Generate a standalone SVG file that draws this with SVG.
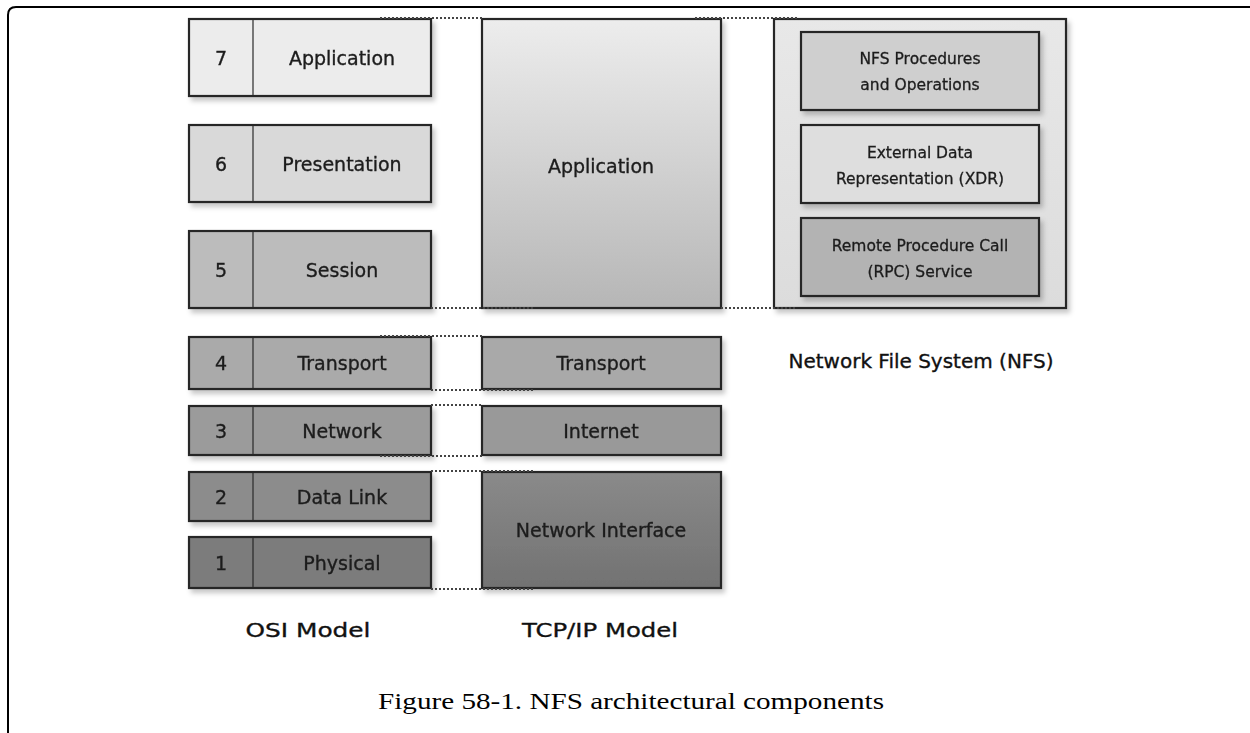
<svg xmlns="http://www.w3.org/2000/svg" width="1250" height="733" viewBox="0 0 1250 733">
<style>
.box{stroke:#262626;stroke-width:2.2}
.div{stroke:#2a2a2a;stroke-width:1.2}
.t{font-family:"DejaVu Sans","Liberation Sans",sans-serif;font-size:19px;fill:#1c1c1c;stroke:#1c1c1c;stroke-width:0.35;text-anchor:middle}
.s{font-family:"DejaVu Sans","Liberation Sans",sans-serif;font-size:15.5px;fill:#1c1c1c;stroke:#1c1c1c;stroke-width:0.3;text-anchor:middle}
.lbl{font-family:"DejaVu Sans","Liberation Sans",sans-serif;font-size:20px;fill:#111;stroke:#111;stroke-width:0.35;text-anchor:middle}
.cap{font-family:"Liberation Serif","Times New Roman",serif;font-size:23px;fill:#000;text-anchor:middle}
.dot{stroke:#444;stroke-width:2;stroke-dasharray:2 2;fill:none}
</style>
<defs>
<filter id="sh" x="-10%" y="-10%" width="130%" height="140%">
<feDropShadow dx="3" dy="4" stdDeviation="2.5" flood-color="#000" flood-opacity="0.22"/>
</filter>
<linearGradient id="gApp" x1="0" y1="0" x2="0" y2="1"><stop offset="0" stop-color="#ededed"/><stop offset="1" stop-color="#b6b6b6"/></linearGradient>
<linearGradient id="gNI" x1="0" y1="0" x2="0" y2="1"><stop offset="0" stop-color="#8a8a8a"/><stop offset="1" stop-color="#727272"/></linearGradient>
<linearGradient id="gNFS" x1="0" y1="0" x2="0" y2="1"><stop offset="0" stop-color="#e8e8e8"/><stop offset="1" stop-color="#dcdcdc"/></linearGradient>
</defs>
<rect width="1250" height="733" fill="#fff"/>
<path d="M8,733 V15 Q8,7 16,7 H1250" fill="none" stroke="#000" stroke-width="2"/>

<g id="osi-7" filter="url(#sh)"><rect class="box" x="189" y="19" width="242" height="77" fill="#ececec"/><line class="div" x1="253" y1="19" x2="253" y2="96"/><text class="t" x="221" y="64.5">7</text><text class="t" x="342" y="64.5">Application</text></g>
<g id="osi-6" filter="url(#sh)"><rect class="box" x="189" y="125" width="242" height="77" fill="#d9d9d9"/><line class="div" x1="253" y1="125" x2="253" y2="202"/><text class="t" x="221" y="170.5">6</text><text class="t" x="342" y="170.5">Presentation</text></g>
<g id="osi-5" filter="url(#sh)"><rect class="box" x="189" y="231" width="242" height="77" fill="#bcbcbc"/><line class="div" x1="253" y1="231" x2="253" y2="308"/><text class="t" x="221" y="276.5">5</text><text class="t" x="342" y="276.5">Session</text></g>
<g id="osi-4" filter="url(#sh)"><rect class="box" x="189" y="337" width="242" height="52" fill="#aaaaaa"/><line class="div" x1="253" y1="337" x2="253" y2="389"/><text class="t" x="221" y="370">4</text><text class="t" x="342" y="370">Transport</text></g>
<g id="osi-3" filter="url(#sh)"><rect class="box" x="189" y="406" width="242" height="49" fill="#9b9b9b"/><line class="div" x1="253" y1="406" x2="253" y2="455"/><text class="t" x="221" y="437.5">3</text><text class="t" x="342" y="437.5">Network</text></g>
<g id="osi-2" filter="url(#sh)"><rect class="box" x="189" y="472" width="242" height="49" fill="#8c8c8c"/><line class="div" x1="253" y1="472" x2="253" y2="521"/><text class="t" x="221" y="503.5">2</text><text class="t" x="342" y="503.5">Data Link</text></g>
<g id="osi-1" filter="url(#sh)"><rect class="box" x="189" y="537" width="242" height="51" fill="#7b7b7b"/><line class="div" x1="253" y1="537" x2="253" y2="588"/><text class="t" x="221" y="569.5">1</text><text class="t" x="342" y="569.5">Physical</text></g>

<g id="tcp-application" filter="url(#sh)"><rect class="box" x="482" y="19" width="239" height="289" fill="url(#gApp)"/><text class="t" x="601" y="173">Application</text></g>
<g id="tcp-transport" filter="url(#sh)"><rect class="box" x="482" y="337" width="239" height="52" fill="#a9a9a9"/><text class="t" x="601" y="370">Transport</text></g>
<g id="tcp-internet" filter="url(#sh)"><rect class="box" x="482" y="406" width="239" height="49" fill="#999999"/><text class="t" x="601" y="437.5">Internet</text></g>
<g id="tcp-netif" filter="url(#sh)"><rect class="box" x="482" y="472" width="239" height="116" fill="url(#gNI)"/><text class="t" x="601" y="537">Network Interface</text></g>

<g id="nfs" filter="url(#sh)"><rect class="box" x="774" y="19" width="292" height="289" fill="url(#gNFS)"/></g>
<g id="nfs-proc" filter="url(#sh)"><rect class="box" x="801" y="32" width="238" height="78" fill="#cfcfcf"/><text class="s" x="920" y="64">NFS Procedures</text><text class="s" x="920" y="90">and Operations</text></g>
<g id="nfs-xdr" filter="url(#sh)"><rect class="box" x="801" y="125" width="238" height="78" fill="#dedede"/><text class="s" x="920" y="158">External Data</text><text class="s" x="920" y="184">Representation (XDR)</text></g>
<g id="nfs-rpc" filter="url(#sh)"><rect class="box" x="801" y="218" width="238" height="78" fill="#b3b3b3"/><text class="s" x="920" y="251">Remote Procedure Call</text><text class="s" x="920" y="277">(RPC) Service</text></g>

<g id="connectors">
<line class="dot" x1="380" y1="18" x2="482" y2="18"/>
<line class="dot" x1="695" y1="18" x2="797" y2="18"/>
<line class="dot" x1="431" y1="308" x2="535" y2="308"/>
<line class="dot" x1="721" y1="308" x2="797" y2="308"/>
<line class="dot" x1="380" y1="336" x2="482" y2="336"/>
<line class="dot" x1="431" y1="390" x2="535" y2="390"/>
<line class="dot" x1="431" y1="405" x2="482" y2="405"/>
<line class="dot" x1="380" y1="456" x2="482" y2="456"/>
<line class="dot" x1="431" y1="471" x2="535" y2="471"/>
<line class="dot" x1="431" y1="589" x2="535" y2="589"/>
</g>

<g id="labels">
<text class="lbl" x="921" y="368">Network File System (NFS)</text>
<text class="lbl" x="308" y="637" textLength="125" lengthAdjust="spacingAndGlyphs">OSI Model</text>
<text class="lbl" x="600" y="637" textLength="156" lengthAdjust="spacingAndGlyphs">TCP/IP Model</text>
<text class="cap" x="631" y="709" textLength="506" lengthAdjust="spacingAndGlyphs">Figure 58-1. NFS architectural components</text>
</g>
</svg>
